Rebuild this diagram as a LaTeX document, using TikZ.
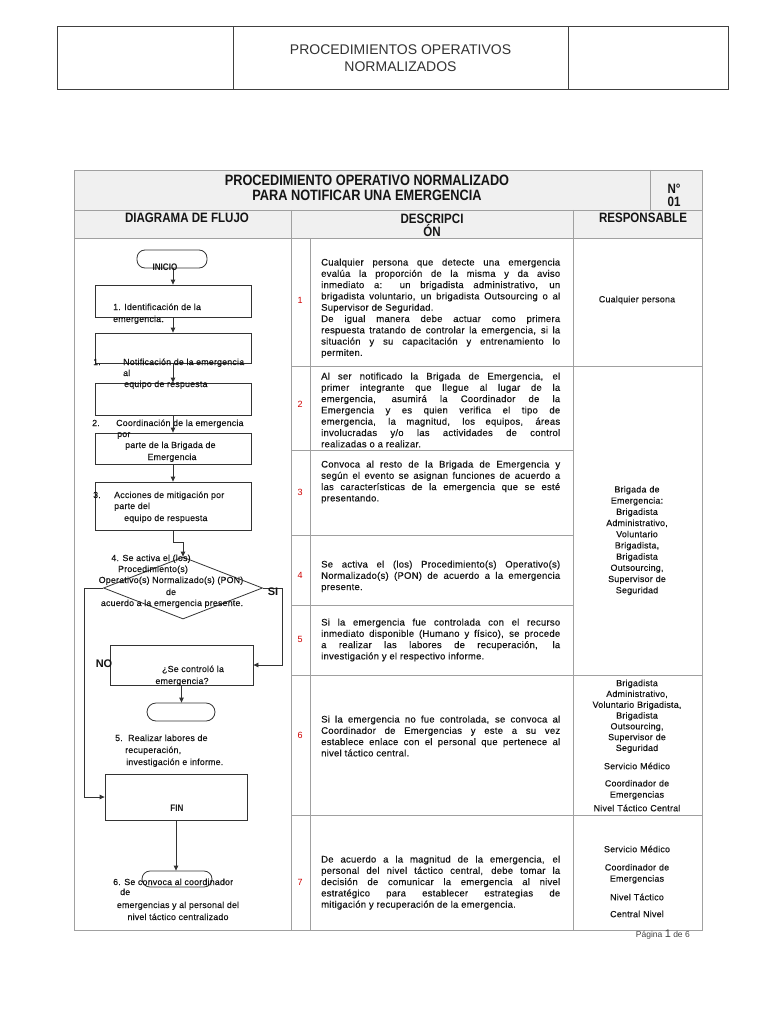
\documentclass[tikz,border=0pt]{standalone}
\usepackage{fontspec}
\setmainfont{Liberation Sans}
\newfontfamily\narrowfont[FakeStretch=0.85]{Liberation Sans}
\newfontfamily\spacedfont[LetterSpace=2.5,FakeBold=0.35]{Liberation Sans}
\usetikzlibrary{shapes.geometric,arrows.meta}
\definecolor{tline}{HTML}{A0A0A0}
\definecolor{fline}{HTML}{333333}
\definecolor{numred}{HTML}{D00000}
\definecolor{hdrfill}{HTML}{F0F0F0}
\definecolor{ink}{HTML}{141414}
\newcommand{\descfont}{\spacedfont\fontsize{9.5}{11.3}\selectfont}
\newcommand{\flowfont}{\spacedfont\fontsize{8.8}{11.3}\selectfont}
\newcommand{\respfont}{\spacedfont\fontsize{8.9}{11.2}\selectfont}
\tolerance=10000
\hyphenpenalty=10000
\begin{document}
\begin{tikzpicture}[x=1pt,y=-1pt,
  tl/.style={draw=tline,line width=0.9pt},
  fshape/.style={draw=fline,line width=0.8pt,inner sep=0pt},
  term/.style={fshape,rounded corners=8pt},
  arr/.style={draw=fline,line width=0.8pt,-{Triangle[length=5pt,width=4.5pt]}},
  ftxt/.style={anchor=base west,inner sep=0pt,font=\flowfont,text=ink},
  ctxt/.style={anchor=base,inner sep=0pt,font=\flowfont,text=ink},
  desc/.style={anchor=north west,inner sep=0pt,text width=239pt,align=justify,font=\descfont,text=ink},
  resp/.style={inner sep=0pt,text width=126pt,align=center,font=\respfont,text=ink},
  num/.style={inner sep=0pt,font=\fontsize{9}{11}\selectfont,text=numred},
  hbold/.style={inner sep=0pt,font=\narrowfont\bfseries\fontsize{15}{15}\selectfont,text=ink,align=center},
  cbold/.style={inner sep=0pt,font=\narrowfont\bfseries\fontsize{13.6}{13}\selectfont,text=ink,align=center},
  lbl/.style={inner sep=0pt,font=\bfseries\fontsize{11}{12}\selectfont,text=ink},
  tlbl/.style={inner sep=0pt,font=\narrowfont\bfseries\fontsize{9.5}{10}\selectfont,text=ink,anchor=base},
]
\useasboundingbox (0,0) rectangle (768,1024);
\fill[white] (0,0) rectangle (768,1024);

% ---------- top header ----------
\draw[draw=black!75,line width=1pt] (57,27) rectangle (728,90);
\draw[draw=black!75,line width=1pt] (233,27) -- (233,90) (568,27) -- (568,90);
\node[align=center,inner sep=0pt,font=\fontsize{14}{17}\selectfont,text=black!80] (hdr) at (400.5,58.5) {PROCEDIMIENTOS OPERATIVOS\\NORMALIZADOS};

% ---------- main table ----------
\fill[hdrfill] (74,170) rectangle (702,238);
\draw[tl] (74,170) rectangle (702,930);
\draw[tl] (74,210) -- (702,210);
\draw[tl] (74,238) -- (702,238);
\draw[tl] (650,170) -- (650,210);
\draw[tl] (291,210) -- (291,930);
\draw[tl] (573,210) -- (573,930);
\draw[tl] (310,238) -- (310,930);
\foreach \yy in {366,450,535,605,675,815} \draw[tl] (291,\yy) -- (573,\yy);
\foreach \yy in {366,675,815} \draw[tl] (573,\yy) -- (702,\yy);

\node[hbold] (title) at (367,188) {PROCEDIMIENTO OPERATIVO NORMALIZADO\\PARA NOTIFICAR UNA EMERGENCIA};
\node[cbold] (numhdr) at (674,195) {N°\\01};
\node[cbold] (colflow) at (187,218) {DIAGRAMA DE FLUJO};
\node[cbold] (coldesc) at (432,225) {DESCRIPCI\\ÓN};
\node[cbold] (colresp) at (643,218) {RESPONSABLE};

% ---------- numbers ----------
\node[num] (n1) at (300,300) {1};
\node[num] (n2) at (300,404) {2};
\node[num] (n3) at (300,492) {3};
\node[num] (n4) at (300,575) {4};
\node[num] (n5) at (300,639) {5};
\node[num] (n6) at (300,735) {6};
\node[num] (n7) at (300,882) {7};

% ---------- descriptions ----------
\node[desc] (p1) at (321,257.4) {\strut Cualquier persona que detecte una emergencia\linebreak evalúa la proporción de la misma y da aviso\linebreak inmediato a: un brigadista administrativo, un\linebreak brigadista voluntario, un brigadista Outsourcing o al\linebreak Supervisor de Seguridad.\par De igual manera debe actuar como primera\linebreak respuesta tratando de controlar la emergencia, si la\linebreak situación y su capacitación y entrenamiento lo\linebreak permiten.};
\node[desc] (p2) at (321,371.4) {\strut Al ser notificado la Brigada de Emergencia, el\linebreak primer integrante que llegue al lugar de la\linebreak emergencia, asumirá la Coordinador de la\linebreak Emergencia y es quien verifica el tipo de\linebreak emergencia, la magnitud, los equipos, áreas\linebreak involucradas y/o las actividades de control\linebreak realizadas o a realizar.};
\node[desc] (p3) at (321,459.4) {\strut Convoca al resto de la Brigada de Emergencia y\linebreak según el evento se asignan funciones de acuerdo a\linebreak las características de la emergencia que se esté\linebreak presentando.};
\node[desc] (p4) at (321,559.4) {\strut Se activa el (los) Procedimiento(s) Operativo(s)\linebreak Normalizado(s) (PON) de acuerdo a la emergencia\linebreak presente.};
\node[desc] (p5) at (321,617.4) {\strut Si la emergencia fue controlada con el recurso\linebreak inmediato disponible (Humano y físico), se procede\linebreak a realizar las labores de recuperación, la\linebreak investigación y el respectivo informe.};
\node[desc] (p6) at (321,714.4) {\strut Si la emergencia no fue controlada, se convoca al\linebreak Coordinador de Emergencias y este a su vez\linebreak establece enlace con el personal que pertenece al\linebreak nivel táctico central.};
\node[desc] (p7) at (321,854.4) {\strut De acuerdo a la magnitud de la emergencia, el\linebreak personal del nivel táctico central, debe tomar la\linebreak decisión de comunicar la emergencia al nivel\linebreak estratégico para establecer estrategias de\linebreak mitigación y recuperación de la emergencia.};

% ---------- responsables ----------
\node[resp] (r1) at (637,300) {Cualquier persona};
\node[resp,anchor=north] (r2) at (637,484.4) {\strut Brigada de\\Emergencia:\\Brigadista\\Administrativo,\\Voluntario\\Brigadista,\\Brigadista\\Outsourcing,\\Supervisor de\\Seguridad};
\node[resp,anchor=north,font=\spacedfont\fontsize{8.9}{10.8}\selectfont] (r6a) at (637,678.4) {\strut Brigadista\\Administrativo,\\Voluntario Brigadista,\\Brigadista\\Outsourcing,\\Supervisor de\\Seguridad};
\node[resp] (r6b) at (637,766) {Servicio Médico};
\node[resp,anchor=north] (r6c) at (637,778.4) {\strut Coordinador de\\Emergencias};
\node[resp] (r6d) at (637,808) {Nivel Táctico Central};
\node[resp] (r7a) at (637,849) {Servicio Médico};
\node[resp,anchor=north] (r7b) at (637,862.4) {\strut Coordinador de\\Emergencias};
\node[resp] (r7c) at (637,897) {Nivel Táctico};
\node[resp] (r7d) at (637,914) {Central Nivel};

% ---------- footer ----------
\node[anchor=base east,inner sep=0pt,font=\fontsize{8.5}{10}\selectfont,text=black!75] (pag) at (690,937) {Página {\fontsize{11}{12}\selectfont 1} de 6};

% ---------- flowchart shapes ----------
\node[term,minimum width=70pt,minimum height=18pt] (inicio) at (172,259) {};
\node[fshape,minimum width=156pt,minimum height=32pt] (b1) at (173,301) {};
\node[fshape,minimum width=156pt,minimum height=30pt] (b2) at (173,348) {};
\node[fshape,minimum width=156pt,minimum height=32pt] (b3) at (173,399) {};
\node[fshape,minimum width=156pt,minimum height=31pt] (b4) at (173,448.5) {};
\node[fshape,minimum width=156pt,minimum height=48pt] (b5) at (173,506) {};
\node[fshape,shape=diamond,minimum width=159pt,minimum height=62pt] (d) at (183,588) {};
\node[fshape,minimum width=143pt,minimum height=40pt] (b6) at (181.5,665) {};
\node[term,minimum width=68pt,minimum height=18pt,rounded corners=9pt] (t2) at (181,712) {};
\node[fshape,minimum width=142pt,minimum height=46pt] (b7) at (176,797) {};
\node[term,minimum width=70pt,minimum height=16pt] (t3) at (177,879) {};

% ---------- flowchart connectors ----------
\draw[arr] (b1.north |- inicio.south) -- (b1.north);
\draw[arr] (b1.south) -- (b2.north);
\draw[arr] (b2.south) -- (b3.north);
\draw[arr] (b3.south) -- (b4.north);
\draw[arr] (b4.south) -- (b5.north);
\draw[arr] (b5.south) -- ++(0,12) -| (d.north);
\draw[arr] (d.west) -- ++(-19,0) |- (b7.west);
\draw[arr] (d.east) -- ++(19,0) |- (b6.east);
\draw[arr] (b6.south) -- (b6.south |- t2.north);
\draw[arr] (b7.south) -- (b7.south |- t3.north);

% ---------- flowchart texts ----------
\node[tlbl] (inicioT) at (165,270) {INICIO};
\node[ftxt] (t1a) at (113,310) {1. Identificación de la};
\node[ftxt] (t1b) at (113,322) {emergencia.};
\node[ftxt] (t2n) at (93,365) {1.};
\node[ftxt] (t2a) at (123,365) {Notificación de la emergencia};
\node[ftxt] (t2b) at (123,376) {al};
\node[ftxt] (t2c) at (124,387) {equipo de respuesta};
\node[ftxt] (t3n) at (92,426) {2.};
\node[ftxt] (t3a) at (116,426) {Coordinación de la emergencia};
\node[ftxt] (t3b) at (117,437) {por};
\node[ftxt] (t3c) at (125,448) {parte de la Brigada de};
\node[ctxt] (t3d) at (172,460) {Emergencia};
\node[ftxt] (t4n) at (93,498) {3.};
\node[ftxt] (t4a) at (114,498) {Acciones de mitigación por};
\node[ftxt] (t4b) at (114,509) {parte del};
\node[ftxt] (t4c) at (124,521) {equipo de respuesta};
\node[ctxt] (d1) at (151,561) {4. Se activa el (los)};
\node[ctxt] (d2) at (153,572) {Procedimiento(s)};
\node[ctxt] (d3) at (171,583) {Operativo(s) Normalizado(s) (PON)};
\node[ctxt] (d4) at (171,595) {de};
\node[ctxt] (d5) at (172,606) {acuerdo a la emergencia presente.};
\node[lbl] (si) at (273,592) {SI};
\node[lbl] (no) at (104,664) {NO};
\node[ctxt] (q1) at (193,672) {¿Se controló la};
\node[ctxt] (q2) at (182,684) {emergencia?};
\node[ftxt] (r5n) at (115,741) {5.};
\node[ftxt] (r5a) at (128,741) {Realizar labores de};
\node[ftxt] (r5b) at (125,753) {recuperación,};
\node[ftxt] (r5c) at (126,765) {investigación e informe.};
\node[tlbl] (finT) at (177,811) {FIN};
\node[ftxt] (s6a) at (113,885) {6. Se convoca al coordinador};
\node[ftxt] (s6b) at (120,895) {de};
\node[ctxt] (s6c) at (178,908) {emergencias y al personal del};
\node[ctxt] (s6d) at (178,920) {nivel táctico centralizado};
\end{tikzpicture}
\end{document}
